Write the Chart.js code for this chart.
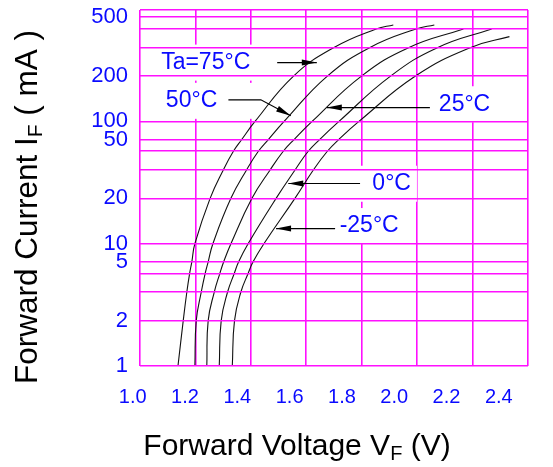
<!DOCTYPE html>
<html>
<head>
<meta charset="utf-8">
<script src="https://cdn.jsdelivr.net/npm/chart.js@4.4.1/dist/chart.umd.min.js"></script>
<style>
  html, body { margin: 0; padding: 0; background: #fff; }
</style>
</head>
<body>
<canvas id="chart" width="553" height="467"></canvas>
<script>
// forward current (mA) / forward voltage (V) per ambient temperature
const i75 = [1, 2, 3, 4, 5, 10, 20, 30, 40, 50, 100, 200, 300, 400, 432]
const v75 = [1.137, 1.156, 1.169, 1.179, 1.187, 1.198, 1.253, 1.301, 1.337, 1.367, 1.415, 1.554, 1.700, 1.852, 1.914]
const i50 = [1, 2, 3, 4, 5, 10, 20, 30, 40, 50, 100, 200, 300, 400, 432]
const v50 = [1.198, 1.203, 1.221, 1.235, 1.246, 1.263, 1.328, 1.385, 1.427, 1.463, 1.520, 1.676, 1.830, 1.996, 2.062]
const i25 = [1, 2, 3, 4, 5, 10, 20, 30, 40, 50, 100, 200, 300, 400]
const v25 = [1.241, 1.246, 1.268, 1.288, 1.302, 1.328, 1.404, 1.470, 1.517, 1.556, 1.621, 1.799, 1.971, 2.167]
const i0 = [1, 2, 3, 4, 5, 10, 20, 30, 40, 50, 100, 200, 300, 400]
const v0 = [1.286, 1.293, 1.316, 1.340, 1.356, 1.390, 1.491, 1.560, 1.607, 1.648, 1.718, 1.904, 2.075, 2.269]
const iM25 = [1, 2, 3, 4, 5, 10, 20, 30, 40, 50, 100, 200, 300, 355]
const vM25 = [1.333, 1.341, 1.364, 1.390, 1.408, 1.447, 1.559, 1.626, 1.676, 1.717, 1.790, 1.994, 2.194, 2.333]

// axes
const xGridValues = [1.0, 1.2, 1.4, 1.6, 1.8, 2.0, 2.2, 2.4]
const xTickLabels = [1.0, 1.2, 1.4, 1.6, 1.8, 2.0, 2.2, 2.4]
const yGridValues = [1, 2, 3, 4, 5, 10, 20, 30, 40, 50, 100, 200, 300, 400, 500, 660]
const yTickLabels = [1, 2, 5, 10, 20, 50, 100, 200, 500]

// temperature notes: text anchor and arrow path, in volts / mA
const noteText = ['Ta=75°C', '50°C', '25°C', '0°C', '-25°C']
const noteV = [1.237, 1.186, 2.171, 1.908, 1.827]
const noteI = [242, 137, 130, 24.6, 13.1]
const arrowV = [[1.495, 1.638], [1.319, 1.436, 1.544], [2.046, 1.674], [1.794, 1.535], [1.704, 1.491]]
const arrowI = [[242, 242], [139, 139, 109], [123.5, 123.5], [24.7, 24.7], [12.6, 12.6]]

const MAGENTA = '#ff10ff'
const BLUE = '#0a0aff'
const FONT = "'Liberation Sans', Arial, sans-serif"

// the current axis of this sheet is a hand-spaced log grid,
// each decade split 1-2-3-4-5-10 at these fractions
const decadeMantissa = [1, 2, 3, 4, 5, 10]
const decadeFraction = [0, 0.371, 0.605, 0.756, 0.852, 1]

class SheetLogScale extends Chart.LogarithmicScale {
    static id = 'sheetLog'

    toPosition(value) {
        const d = Math.floor(Math.log10(value) + 1e-9)
        const m = value / Math.pow(10, d)
        for (let i = 1; i < decadeMantissa.length; i++) {
            if (m <= decadeMantissa[i] + 1e-9) {
                const a = decadeMantissa[i - 1], b = decadeMantissa[i]
                const t = Math.log(m / a) / Math.log(b / a)
                return d + decadeFraction[i - 1] + t * (decadeFraction[i] - decadeFraction[i - 1])
            }
        }
        return d + 1
    }

    fromPosition(pos) {
        const d = Math.floor(pos)
        const f = pos - d
        for (let i = 1; i < decadeFraction.length; i++) {
            if (f <= decadeFraction[i]) {
                const a = decadeMantissa[i - 1], b = decadeMantissa[i]
                const t = (f - decadeFraction[i - 1]) / (decadeFraction[i] - decadeFraction[i - 1])
                return a * Math.pow(b / a, t) * Math.pow(10, d)
            }
        }
        return Math.pow(10, d + 1)
    }

    getPixelForValue(value) {
        const lo = this.toPosition(this.min)
        const hi = this.toPosition(this.max)
        return this.getPixelForDecimal((this.toPosition(value) - lo) / (hi - lo))
    }

    getValueForPixel(pixel) {
        const lo = this.toPosition(this.min)
        const hi = this.toPosition(this.max)
        return this.fromPosition(lo + this.getDecimalForPixel(pixel) * (hi - lo))
    }
}
Chart.register(SheetLogScale)

function series(vs, is) {
    return vs.map((v, k) => ({ x: v, y: is[k] }))
}

// keep the plot frame where the layout padding puts it
function noEdgePadding(s) {
    s.paddingTop = 0
    s.paddingBottom = 0
    s.paddingLeft = 0
    s.paddingRight = 0
}

// white boxes behind the notes, cut out of the vertical grid lines
const notePad = [[10, 10], [12, 36], [8, 8], [16, 6], [8, 8]]

const notesPlugin = {
    id: 'notes',
    beforeDatasetsDraw(chart) {
        const { ctx, scales } = chart
        ctx.save()
        ctx.font = '23px ' + FONT
        ctx.fillStyle = '#ffffff'
        noteText.forEach((t, k) => {
            const cx = scales.x.getPixelForValue(noteV[k])
            const cy = scales.y.getPixelForValue(noteI[k])
            const w = ctx.measureText(t).width
            ctx.fillRect(cx - w / 2 - notePad[k][0], cy - 18, w + notePad[k][0] + notePad[k][1], 36)
        })
        ctx.restore()
    },
    afterDraw(chart) {
        const { ctx, scales } = chart
        ctx.save()
        // arrows
        ctx.strokeStyle = '#000'
        ctx.fillStyle = '#000'
        ctx.lineWidth = 1.1
        arrowV.forEach((vs, k) => {
            const pts = vs.map((v, j) => [scales.x.getPixelForValue(v), scales.y.getPixelForValue(arrowI[k][j])])
            ctx.beginPath()
            ctx.moveTo(pts[0][0], pts[0][1])
            for (let j = 1; j < pts.length; j++) ctx.lineTo(pts[j][0], pts[j][1])
            ctx.stroke()
            const [tx, ty] = pts[pts.length - 1]
            const [px, py] = pts[pts.length - 2]
            const ang = Math.atan2(ty - py, tx - px)
            const len = 15, half = 3
            ctx.beginPath()
            ctx.moveTo(tx, ty)
            ctx.lineTo(tx - len * Math.cos(ang) - half * Math.sin(ang), ty - len * Math.sin(ang) + half * Math.cos(ang))
            ctx.lineTo(tx - len * Math.cos(ang) + half * Math.sin(ang), ty - len * Math.sin(ang) - half * Math.cos(ang))
            ctx.closePath()
            ctx.fill()
        })
        // labels
        ctx.font = '23px ' + FONT
        ctx.fillStyle = BLUE
        ctx.textAlign = 'center'
        ctx.textBaseline = 'middle'
        noteText.forEach((t, k) => {
            ctx.fillText(t, scales.x.getPixelForValue(noteV[k]), scales.y.getPixelForValue(noteI[k]))
        })
        ctx.restore()
    }
}

// axis titles with a subscript F
function drawRichText(ctx, parts, size, subSize, subShift) {
    let total = 0
    parts.forEach(p => {
        ctx.font = (p[1] ? subSize : size) + 'px ' + FONT
        total += ctx.measureText(p[0]).width
    })
    let x = -total / 2
    parts.forEach(p => {
        ctx.font = (p[1] ? subSize : size) + 'px ' + FONT
        ctx.fillText(p[0], x, p[1] ? subShift : 0)
        x += ctx.measureText(p[0]).width
    })
}

const titlesPlugin = {
    id: 'titles',
    afterDraw(chart) {
        const { ctx, chartArea } = chart
        ctx.save()
        ctx.fillStyle = '#000'
        ctx.textAlign = 'left'
        ctx.textBaseline = 'alphabetic'
        ctx.translate(chartArea.left + 157, chartArea.bottom + 89)
        drawRichText(ctx, [['Forward Voltage V', false], ['F', true], [' (V)', false]], 30, 20, 5)
        ctx.restore()

        ctx.save()
        ctx.fillStyle = '#000'
        ctx.textAlign = 'left'
        ctx.textBaseline = 'alphabetic'
        ctx.translate(37, chartArea.top + 197)
        ctx.rotate(-Math.PI / 2)
        drawRichText(ctx, [['Forward Current I', false], ['F', true], [' ( mA )', false]], 31.5, 21, 5)
        ctx.restore()
    }
}

const curveStyle = {
    borderColor: '#111',
    borderWidth: 1.1,
    pointRadius: 0,
    fill: false,
    tension: 0.45
}

new Chart(document.getElementById('chart'), {
    type: 'line',
    data: {
        datasets: [
            { label: '75°C', data: series(v75, i75), ...curveStyle },
            { label: '50°C', data: series(v50, i50), ...curveStyle },
            { label: '25°C', data: series(v25, i25), ...curveStyle },
            { label: '0°C', data: series(v0, i0), ...curveStyle },
            { label: '-25°C', data: series(vM25, iM25), ...curveStyle }
        ]
    },
    options: {
        responsive: false,
        animation: false,
        layout: { padding: { left: 0, top: 10, right: 25, bottom: 0 } },
        plugins: {
            legend: { display: false },
            tooltip: { enabled: false }
        },
        scales: {
            x: {
                type: 'linear',
                min: 1.0,
                max: 2.4,
                afterBuildTicks: s => { s.ticks = xGridValues.map(v => ({ value: v })) },
                afterFit: s => { s.height = 0; noEdgePadding(s) },
                grid: { color: MAGENTA, lineWidth: 1.6, drawTicks: false, z: -1 },
                border: { display: false },
                ticks: { display: false }
            },
            // tick labels sit on their own spacing, a little off the grid
            xLabels: {
                type: 'linear',
                position: 'bottom',
                weight: 1,
                min: 1.0,
                max: 2.4837,
                afterBuildTicks: s => { s.ticks = xTickLabels.map(v => ({ value: v })) },
                afterFit: s => { s.height = 101; noEdgePadding(s) },
                grid: { display: false, drawTicks: false },
                border: { display: false },
                ticks: {
                    autoSkip: false,
                    maxRotation: 0,
                    padding: 19,
                    labelOffset: -7.3,
                    color: BLUE,
                    font: { family: FONT, size: 20 },
                    callback: v => v.toFixed(1)
                }
            },
            y: {
                type: 'sheetLog',
                min: 1,
                max: 660,
                afterBuildTicks: s => { s.ticks = yGridValues.map(v => ({ value: v })) },
                afterFit: s => { s.width = 140; noEdgePadding(s) },
                grid: { color: MAGENTA, lineWidth: 1.6, drawTicks: false, z: 1 },
                border: { display: false },
                ticks: {
                    autoSkip: false,
                    padding: 12,
                    color: BLUE,
                    font: { family: FONT, size: 22 },
                    callback: v => yTickLabels.includes(v) ? String(v) : ''
                }
            }
        }
    },
    plugins: [notesPlugin, titlesPlugin]
})
</script>
</body>
</html>
